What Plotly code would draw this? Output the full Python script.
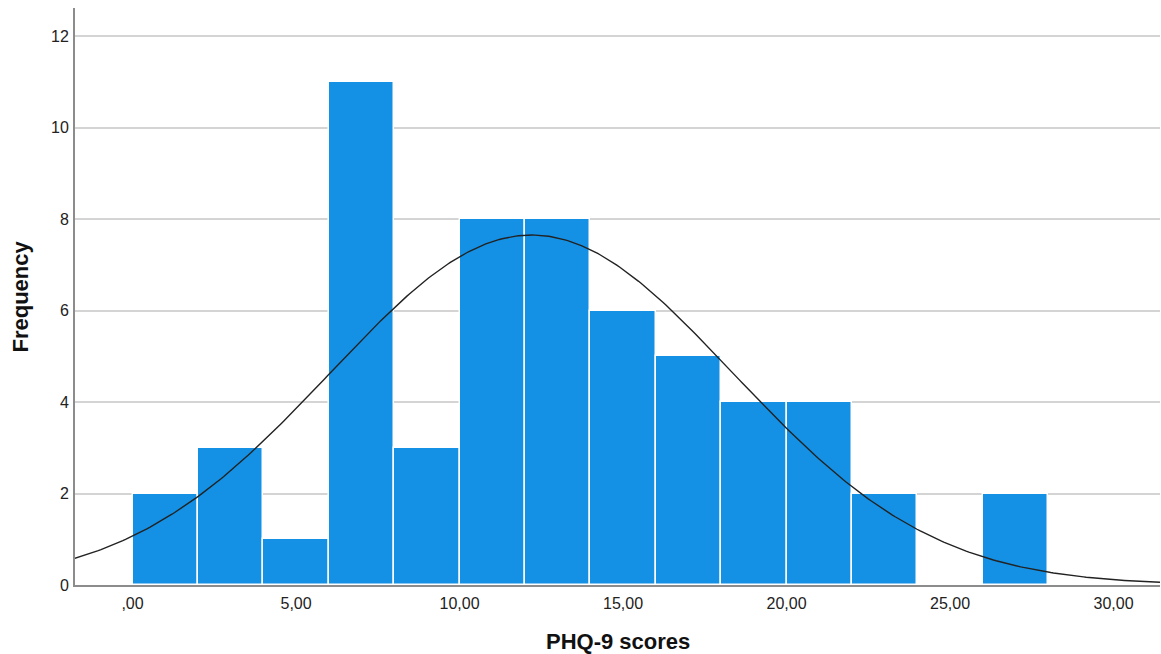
import numpy as np
import plotly.graph_objects as go

# Histogram data (bin edges width 2)
bin_starts = [0, 2, 4, 6, 8, 10, 12, 14, 16, 18, 20, 22, 24, 26]
counts = [2, 3, 1, 11, 3, 8, 8, 6, 5, 4, 4, 2, 0, 2]
bin_width = 2

# Normal curve parameters (SPSS fitted curve)
mean_val = 12.2
sd_val = 6.15
n_total = sum(counts)

x_tickvals = [0, 5, 10, 15, 20, 25, 30]
x_ticktext = [",00", "5,00", "10,00", "15,00", "20,00", "25,00", "30,00"]
y_tickvals = [0, 2, 4, 6, 8, 10, 12]
x_title = "PHQ-9 scores"
y_title = "Frequency"

centers = [s + bin_width / 2 for s in bin_starts]

xs = np.linspace(-1.8, 31.5, 400)
ys = n_total * bin_width / (sd_val * np.sqrt(2 * np.pi)) * np.exp(-(xs - mean_val) ** 2 / (2 * sd_val ** 2))

fig = go.Figure()
fig.add_trace(go.Bar(
    x=centers, y=counts, width=[bin_width] * len(centers),
    marker=dict(color="#1490E4", line=dict(color="white", width=1.5)),
    showlegend=False, hoverinfo="skip",
))
fig.add_trace(go.Scatter(
    x=xs, y=ys, mode="lines", line=dict(color="#222222", width=1.4),
    showlegend=False, hoverinfo="skip",
))

font_fam = "Liberation Sans, Arial, sans-serif"
fig.update_layout(
    width=1161, height=654,
    margin=dict(l=75, r=1, t=8, b=69),
    paper_bgcolor="white", plot_bgcolor="white",
    bargap=0,
    font=dict(family=font_fam, color="#222222"),
    xaxis=dict(
        range=[-1.76, 31.42], tickvals=x_tickvals, ticktext=x_ticktext,
        showgrid=False, zeroline=False, showline=True, linecolor="#8c8c8c", linewidth=2,
        ticks="", tickfont=dict(size=16), ticklabelstandoff=3, automargin=False,
    ),
    yaxis=dict(
        range=[0, 12.62], tickvals=y_tickvals,
        showgrid=True, gridcolor="#d4d4d4", gridwidth=2, zeroline=False,
        showline=True, linecolor="#8c8c8c", linewidth=2,
        ticks="", tickfont=dict(size=16), ticklabelstandoff=1, automargin=False,
    ),
    annotations=[
        dict(text="<b>" + x_title + "</b>", xref="paper", yref="paper", x=0.5, y=0,
             yshift=-56, showarrow=False, font=dict(size=22, family=font_fam, color="#111111"),
             xanchor="center", yanchor="middle"),
        dict(text="<b>" + y_title + "</b>", xref="paper", yref="paper", x=0, y=0.5,
             xshift=-55, showarrow=False, textangle=-90,
             font=dict(size=22, family=font_fam, color="#111111"),
             xanchor="center", yanchor="middle"),
    ],
)

fig.write_html("out.html", config={"displayModeBar": False},
               post_script="document.body.style.margin='0';document.body.style.overflow='hidden';")
